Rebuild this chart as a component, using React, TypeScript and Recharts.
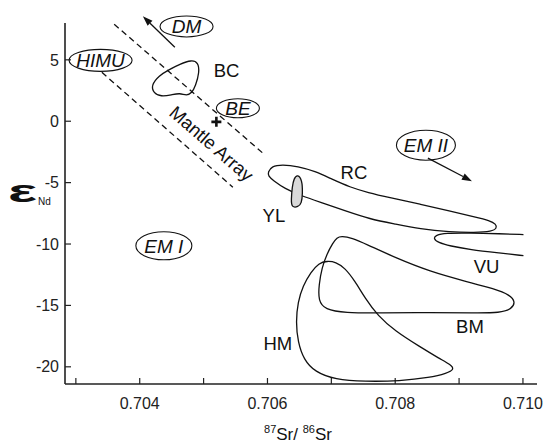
import React from 'react';
import { ScatterChart, Scatter, XAxis, YAxis, ReferenceDot, ReferenceLine } from 'recharts';

const FONT = '"Liberation Sans", Arial, sans-serif';
const INK = '#111';

// field outlines, [87Sr/86Sr, eNd]
const bcField = [
  [0.70418, 2.93], [0.7043, 3.72], [0.704465, 4.22], [0.704625, 4.65], [0.704815, 5.0],
  [0.704915, 4.78], [0.704935, 4.01], [0.704875, 2.88], [0.704815, 2.3], [0.704733, 2.08],
  [0.704629, 2.3], [0.704499, 2.15], [0.704335, 2.0], [0.704215, 2.3],
];
const ylField = [
  [0.706472, -4.31], [0.706544, -4.8], [0.70655, -5.89], [0.706534, -6.7], [0.706481, -6.98],
  [0.706378, -7.02], [0.706371, -6.42], [0.706387, -5.34], [0.706414, -4.66],
];
const rcField = [
  [0.706007, -4.15], [0.706069, -3.66], [0.706226, -3.54], [0.706476, -3.66], [0.706743, -4.07],
  [0.707009, -4.72], [0.707291, -5.37], [0.707573, -5.81], [0.707917, -6.22], [0.708387, -6.75],
  [0.708857, -7.32], [0.709248, -7.8], [0.709483, -8.09], [0.709577, -8.37], [0.709593, -8.7],
  [0.709514, -8.98], [0.709248, -9.07], [0.708857, -9.02], [0.708387, -8.78], [0.707995, -8.37],
  [0.707604, -7.97], [0.707212, -7.28], [0.706821, -6.59], [0.706508, -6.02], [0.706273, -5.49],
  [0.706085, -4.8], [0.706014, -4.47],
];
const vuField = [
  [0.710008, -9.23], [0.70964, -9.16], [0.70917, -9.11], [0.708778, -9.11], [0.708637, -9.27],
  [0.708598, -9.55], [0.708669, -9.88], [0.708857, -10.16], [0.70917, -10.45], [0.70964, -10.73],
  [0.710008, -10.95],
];
const bmField = [
  [0.707161, -9.35], [0.707322, -9.51], [0.707541, -10.0], [0.708011, -11.14], [0.708543, -12.24],
  [0.709107, -13.05], [0.709561, -13.66], [0.709796, -14.15], [0.709882, -14.72], [0.709827, -15.28],
  [0.70964, -15.61], [0.709248, -15.61], [0.708543, -15.57], [0.70776, -15.61], [0.707212, -15.61],
  [0.706899, -15.33], [0.706797, -14.63], [0.706805, -13.33], [0.706852, -11.95], [0.70693, -10.81],
  [0.707024, -9.92], [0.707087, -9.47],
];
const hmField = [
  [0.70693, -11.38], [0.707072, -11.46], [0.707212, -11.95], [0.707369, -13.01], [0.707526, -14.39],
  [0.707729, -15.85], [0.707995, -17.07], [0.708387, -18.37], [0.7087, -19.35], [0.708872, -19.84],
  [0.708925, -20.2], [0.70881, -20.52], [0.708543, -20.88], [0.708074, -21.16], [0.707526, -21.2],
  [0.707056, -21.04], [0.706743, -20.41], [0.70657, -19.43], [0.706476, -17.97], [0.706445, -16.34],
  [0.706476, -14.72], [0.706555, -13.41], [0.70668, -12.28], [0.706805, -11.55],
];
const mantleUpper = [[0.7036, 7.9], [0.705928, -2.6]];
const mantleLower = [[0.703407, 3.98], [0.705458, -5.37]];

const reservoirs = [
  { name: 'DM', x: 0.704733, y: 7.72 },
  { name: 'HIMU', x: 0.703387, y: 4.96 },
  { name: 'BE', x: 0.705537, y: 1.06 },
  { name: 'EM II', x: 0.708481, y: -1.95 },
  { name: 'EM I', x: 0.704378, y: -10.14 },
];
const fieldLabels = [
  { name: 'BC', x: 0.70536, y: 4.15 },
  { name: 'RC', x: 0.707353, y: -4.2 },
  { name: 'YL', x: 0.706101, y: -7.64 },
  { name: 'VU', x: 0.709431, y: -11.85 },
  { name: 'BM', x: 0.70917, y: -16.72 },
  { name: 'HM', x: 0.706163, y: -18.05 },
];
const mantleLabel = { name: 'Mantle Array', x: 0.705125, y: -1.81 };
const bulkEarth = { x: 0.7052, y: -0.05 };
const arrows = [
  { name: 'DM', from: { x: 0.70455, y: 6.02 }, to: { x: 0.704049, y: 8.54 } },
  { name: 'EM II', from: { x: 0.708512, y: -3.01 }, to: { x: 0.709201, y: -4.88 } },
];

const xTicks = [0.703, 0.704, 0.705, 0.706, 0.707, 0.708, 0.709, 0.71];
const xTickLabels = ['', '0.704', '', '0.706', '', '0.708', '', '0.710'];
const yTicks = [5, 0, -5, -10, -15, -20];

const ovalSize: Record<string, [number, number]> = {
  DM: [53, 21],
  HIMU: [63, 22],
  BE: [43, 19],
  'EM II': [59, 30],
  'EM I': [56, 28],
};

const pts = (a: number[][]) => a.map(([x, y]) => ({ x, y }));
const noDot = () => <g />;

const Oval = ({ cx, cy, name }: any) => {
  const [w, h] = ovalSize[name];
  return (
    <g>
      <ellipse cx={cx} cy={cy} rx={w / 2} ry={h / 2} fill="none" stroke={INK} strokeWidth={1.1} />
      <text x={cx} y={cy} dy="0.36em" textAnchor="middle" fontStyle="italic" fontSize={19} fontFamily={FONT} fill={INK}>
        {name}
      </text>
    </g>
  );
};

const Plain = ({ cx, cy, name, angle }: any) => (
  <text
    x={cx}
    y={cy}
    dy="0.36em"
    textAnchor="middle"
    fontSize={angle ? 18.5 : 18.5}
    fontFamily={FONT}
    fill={INK}
    transform={angle ? `rotate(${angle} ${cx} ${cy})` : undefined}
  >
    {name}
  </text>
);

const Cross = ({ cx, cy }: any) => (
  <path d={`M${cx - 5},${cy}H${cx + 5}M${cx},${cy - 5}V${cy + 5}`} stroke={INK} strokeWidth={2.6} />
);

const Arrow = ({ x1, y1, x2, y2 }: any) => {
  const a = Math.atan2(y2 - y1, x2 - x1);
  const len = 10;
  const half = 3.5;
  const bx = x2 - len * Math.cos(a);
  const by = y2 - len * Math.sin(a);
  const ox = -Math.sin(a) * half;
  const oy = Math.cos(a) * half;
  return (
    <g>
      <line x1={x1} y1={y1} x2={bx} y2={by} stroke={INK} strokeWidth={1.3} />
      <polygon points={`${x2},${y2} ${bx + ox},${by + oy} ${bx - ox},${by - oy}`} fill={INK} />
    </g>
  );
};

const XTitle = ({ viewBox }: any) => {
  const { x, y, width } = viewBox;
  return (
    <text x={x + width / 2 - 3} y={y + 56} textAnchor="middle" fontFamily={FONT} fill={INK}>
      <tspan fontSize={11} dy={-7}>87</tspan>
      <tspan fontSize={17} dy={7}>Sr/ </tspan>
      <tspan fontSize={11} dy={-7}>86</tspan>
      <tspan fontSize={17} dy={7}>Sr</tspan>
    </text>
  );
};

const YTitle = ({ viewBox }: any) => {
  const { x, y } = viewBox;
  return (
    <g fontFamily={FONT} fill={INK}>
      <text x={x + 8} y={y + 179} fontSize={32} fontWeight="bold" textLength={29} lengthAdjust="spacingAndGlyphs">
        ε
      </text>
      <text x={x + 38} y={y + 182} fontSize={10}>Nd</text>
    </g>
  );
};

const outline = { stroke: INK, strokeWidth: 1.3, fill: 'none' };

export default function App() {
  return (
    <div style={{ position: 'absolute', left: 0, top: 0 }}>
      <ScatterChart width={545} height={444} margin={{ top: 23, right: 8, bottom: 0, left: 0 }}>
        <XAxis
          type="number"
          dataKey="x"
          domain={[0.70283, 0.71022]}
          allowDataOverflow
          ticks={xTicks}
          tickFormatter={(v: number) => xTickLabels[xTicks.findIndex((t) => Math.abs(t - v) < 1e-7)] ?? ''}
          height={60}
          tickSize={-6}
          tickMargin={20}
          axisLine={{ stroke: '#222', strokeWidth: 1.6 }}
          tickLine={{ stroke: '#222', strokeWidth: 1.2 }}
          tick={{ fontSize: 16, fontFamily: FONT, fill: '#222' }}
          label={<XTitle />}
        />
        <YAxis
          type="number"
          dataKey="y"
          domain={[-21.4, 8]}
          allowDataOverflow
          ticks={yTicks}
          width={65}
          tickSize={-6}
          tickMargin={12}
          axisLine={{ stroke: '#222', strokeWidth: 1.6 }}
          tickLine={{ stroke: '#222', strokeWidth: 1.2 }}
          tick={{ fontSize: 16, fontFamily: FONT, fill: '#222' }}
          label={<YTitle />}
        />
        <Scatter data={pts(mantleUpper)} shape={noDot} line={{ ...outline, strokeDasharray: '6 4' }} lineJointType="linear" isAnimationActive={false} />
        <Scatter data={pts(mantleLower)} shape={noDot} line={{ ...outline, strokeDasharray: '6 4' }} lineJointType="linear" isAnimationActive={false} />
        <Scatter data={pts(bcField)} shape={noDot} line={outline} lineJointType="basisClosed" isAnimationActive={false} />
        <Scatter data={pts(rcField)} shape={noDot} line={outline} lineJointType="basisClosed" isAnimationActive={false} />
        <Scatter data={pts(ylField)} shape={noDot} line={{ ...outline, fill: '#d9d9d9' }} lineJointType="basisClosed" isAnimationActive={false} />
        <Scatter data={pts(vuField)} shape={noDot} line={outline} lineJointType="basis" isAnimationActive={false} />
        <Scatter data={pts(bmField)} shape={noDot} line={outline} lineJointType="basisClosed" isAnimationActive={false} />
        <Scatter data={pts(hmField)} shape={noDot} line={outline} lineJointType="basisClosed" isAnimationActive={false} />
        {arrows.map((a) => (
          <ReferenceLine key={a.name} segment={[a.from, a.to]} ifOverflow="visible" shape={(p: any) => <Arrow {...p} />} />
        ))}
        {reservoirs.map((r) => (
          <ReferenceDot key={r.name} x={r.x} y={r.y} ifOverflow="visible" shape={(p: any) => <Oval {...p} name={r.name} />} />
        ))}
        {fieldLabels.map((f) => (
          <ReferenceDot key={f.name} x={f.x} y={f.y} ifOverflow="visible" shape={(p: any) => <Plain {...p} name={f.name} />} />
        ))}
        <ReferenceDot x={mantleLabel.x} y={mantleLabel.y} ifOverflow="visible" shape={(p: any) => <Plain {...p} name={mantleLabel.name} angle={41} />} />
        <ReferenceDot x={bulkEarth.x} y={bulkEarth.y} ifOverflow="visible" shape={(p: any) => <Cross {...p} />} />
      </ScatterChart>
    </div>
  );
}
